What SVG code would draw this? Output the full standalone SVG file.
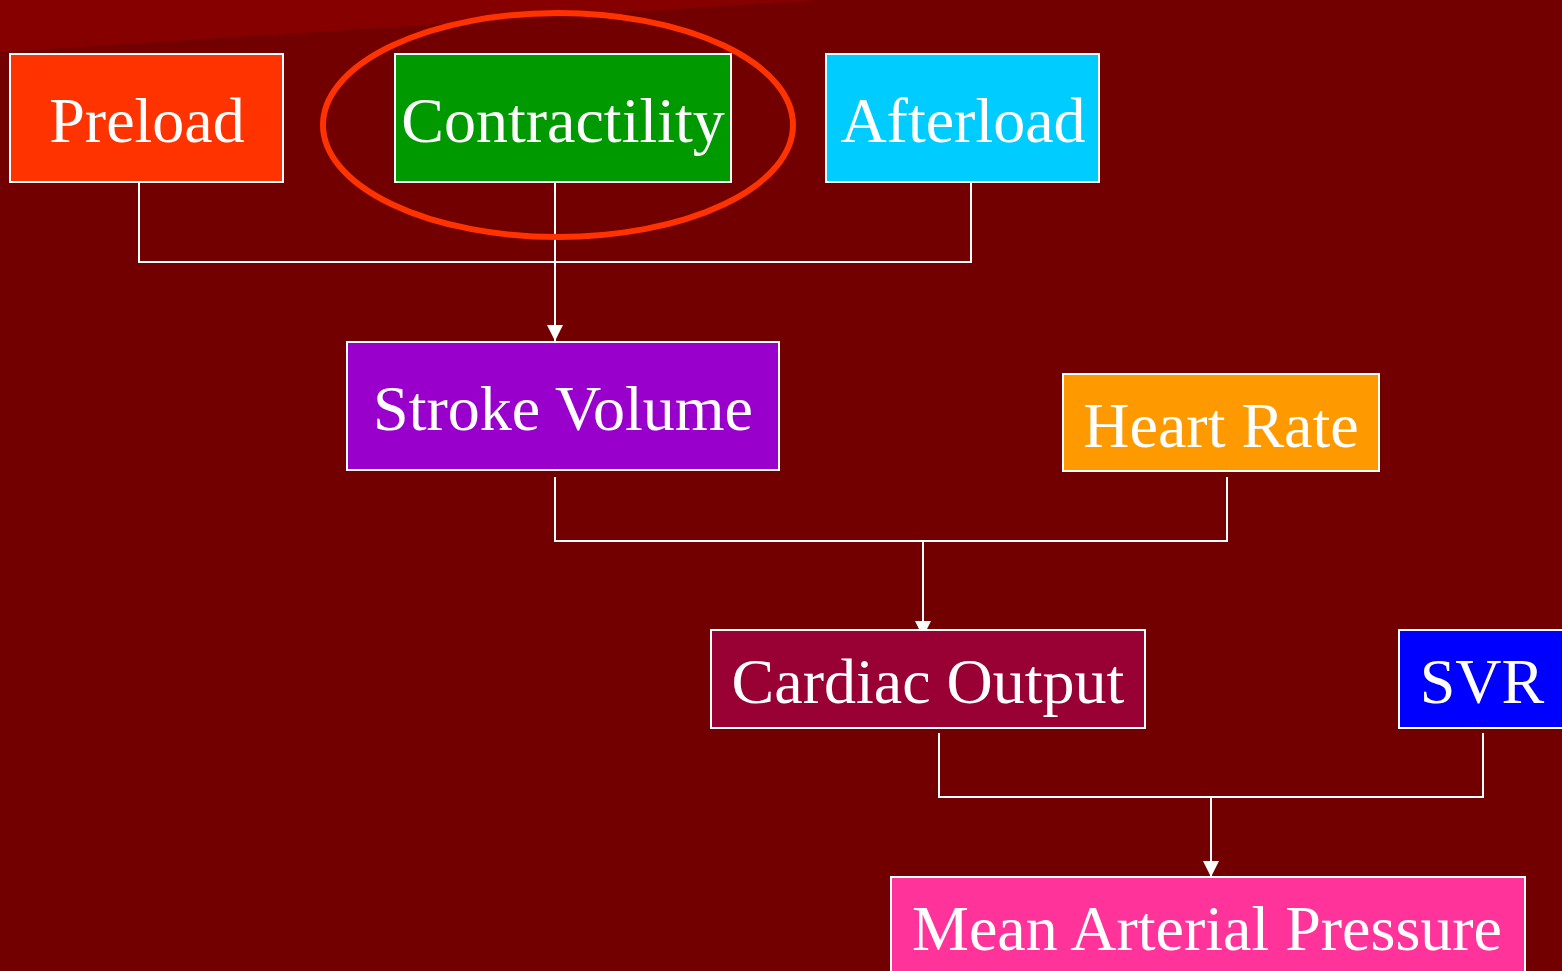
<svg xmlns="http://www.w3.org/2000/svg" width="1562" height="971" viewBox="0 0 1562 971">
<style>
.box{stroke:#fff;stroke-width:2}
.lbl{font-family:"Liberation Serif","Times New Roman",serif;font-size:64px;fill:#fff;text-anchor:middle}
.con{fill:none;stroke:#fff;stroke-width:2}
</style>
<defs>
<marker id="arr" viewBox="0 0 16 16" refX="16" refY="8" markerWidth="16" markerHeight="16" markerUnits="userSpaceOnUse" orient="auto">
<path d="M0,0 L16,8 L0,16 Z" fill="#fff"/>
</marker>
</defs>
<rect x="0" y="0" width="1562" height="971" fill="#730000"/>
<polygon points="0,0 0,52 820,0" fill="#870000"/>
<g id="connectors">
<polyline class="con" points="139,182 139,262 971,262 971,182"/>
<line class="con" x1="555" y1="182" x2="555" y2="341" marker-end="url(#arr)"/>
<polyline class="con" points="555,477 555,541 1227,541 1227,477"/>
<line class="con" x1="923" y1="541" x2="923" y2="637" marker-end="url(#arr)"/>
<polyline class="con" points="939,733 939,797 1483,797 1483,733"/>
<line class="con" x1="1211" y1="797" x2="1211" y2="877" marker-end="url(#arr)"/>
</g>
<g id="preload"><rect class="box" x="10" y="54" width="273" height="128" fill="#FF3300"/><text class="lbl" x="147" y="142">Preload</text></g>
<g id="contractility"><rect class="box" x="395" y="54" width="336" height="128" fill="#009900"/><text class="lbl" x="563" y="142">Contractility</text></g>
<g id="afterload"><rect class="box" x="826" y="54" width="273" height="128" fill="#00CCFF"/><text class="lbl" x="963" y="142">Afterload</text></g>
<g id="highlight"><ellipse cx="558" cy="125" rx="235" ry="112" fill="none" stroke="#FF3300" stroke-width="6"/></g>
<g id="stroke-volume"><rect class="box" x="347" y="342" width="432" height="128" fill="#9900CC"/><text class="lbl" x="563" y="430">Stroke Volume</text></g>
<g id="heart-rate"><rect class="box" x="1063" y="374" width="316" height="97" fill="#FF9900"/><text class="lbl" x="1221" y="447">Heart Rate</text></g>
<g id="cardiac-output"><rect class="box" x="711" y="630" width="434" height="98" fill="#990033"/><text class="lbl" x="928" y="703">Cardiac Output</text></g>
<g id="svr"><rect class="box" x="1399" y="630" width="170" height="98" fill="#0000FF"/><text class="lbl" x="1482" y="703">SVR</text></g>
<g id="map"><rect class="box" x="891" y="877" width="634" height="100" fill="#FF3399"/><text class="lbl" x="1207" y="950">Mean Arterial Pressure</text></g>
</svg>
